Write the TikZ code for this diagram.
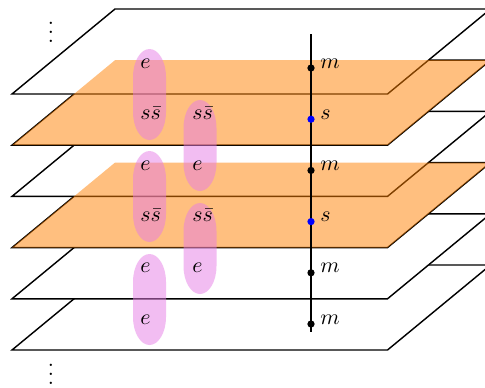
\documentclass[tikz,border=0pt]{standalone}
\definecolor{capc}{RGB}{230,125,230}
\tikzset{
  plane/.style={draw=black, fill=white, line width=0.65pt, line join=miter},
  layer/.style={fill=orange, fill opacity=0.5},
  capsule/.style={fill=capc, fill opacity=0.5},
  dotn/.style={circle, fill=black, inner sep=0pt, minimum size=3.3pt},
  sdot/.style={dotn, fill=blue},
  lab/.style={anchor=base west, inner sep=0pt},
  vlab/.style={anchor=base, inner sep=0pt},
}
\begin{document}
\begin{tikzpicture}[x=0.455pt,y=0.455pt]
\useasboundingbox (0,0) rectangle (485,-387);
\clip (0,0) rectangle (485,-387);
% planes, drawn from the lowest up so each upper one covers the next
\foreach \yb in {350,298.8,247.6,196.4,145.2,94} {
  \draw[plane] (12,-\yb) -- (387.5,-\yb) -- (490.5,-\yb+85) -- (115,-\yb+85) -- cycle;
}
% orange layers
\foreach \yb in {145.2,247.6} {
  \fill[layer] (12,-\yb) -- (387.5,-\yb) -- (490.5,-\yb+85) -- (115,-\yb+85) -- cycle;
}
% capsules
\foreach \xc/\t/\b in {149.5/49/140, 200/100/191, 149.5/151/242, 200/203/294, 149.5/254/345} {
  \fill[capsule] ({\xc-16.5},{-(\t+28)}) arc[start angle=180,end angle=0,x radius=16.5,y radius=28]
     -- ({\xc+16.5},{-(\b-28)}) arc[start angle=0,end angle=-180,x radius=16.5,y radius=28] -- cycle;
}
% capsule labels
\node[lab] (a1) at (140,-68) {$e$};
\node[lab] (a2) at (140,-119.2) {$s\bar{s}$};
\node[lab] (a3) at (140,-170.4) {$e$};
\node[lab] (a4) at (140,-221.6) {$s\bar{s}$};
\node[lab] (a5) at (140,-272.8) {$e$};
\node[lab] (a6) at (140,-324) {$e$};
\node[lab] (b2) at (192,-119.2) {$s\bar{s}$};
\node[lab] (b3) at (192,-170.4) {$e$};
\node[lab] (b4) at (192,-221.6) {$s\bar{s}$};
\node[lab] (b5) at (192,-272.8) {$e$};
% vertical line with points
\coordinate (vt) at (311,-34);
\coordinate (vb) at (311,-332);
\draw[line width=0.65pt] (vt) -- (vb);
\node[dotn] (d1) at (311,-68) {};
\node[sdot] (d2) at (311,-119.2) {};
\node[dotn] (d3) at (311,-170.4) {};
\node[sdot] (d4) at (311,-221.6) {};
\node[dotn] (d5) at (311,-272.8) {};
\node[dotn] (d6) at (311,-324) {};
\node[lab] (l1) at (320,-68) {$m$};
\node[lab] (l2) at (320,-119.2) {$s$};
\node[lab] (l3) at (320,-170.4) {$m$};
\node[lab] (l4) at (320,-221.6) {$s$};
\node[lab] (l5) at (320,-272.8) {$m$};
\node[lab] (l6) at (320,-324) {$m$};
% ellipses
\node[vlab] (vd1) at (51,-42.2) {$\vdots$};
\node[vlab] (vd2) at (51,-384.2) {$\vdots$};
\end{tikzpicture}
\end{document}
